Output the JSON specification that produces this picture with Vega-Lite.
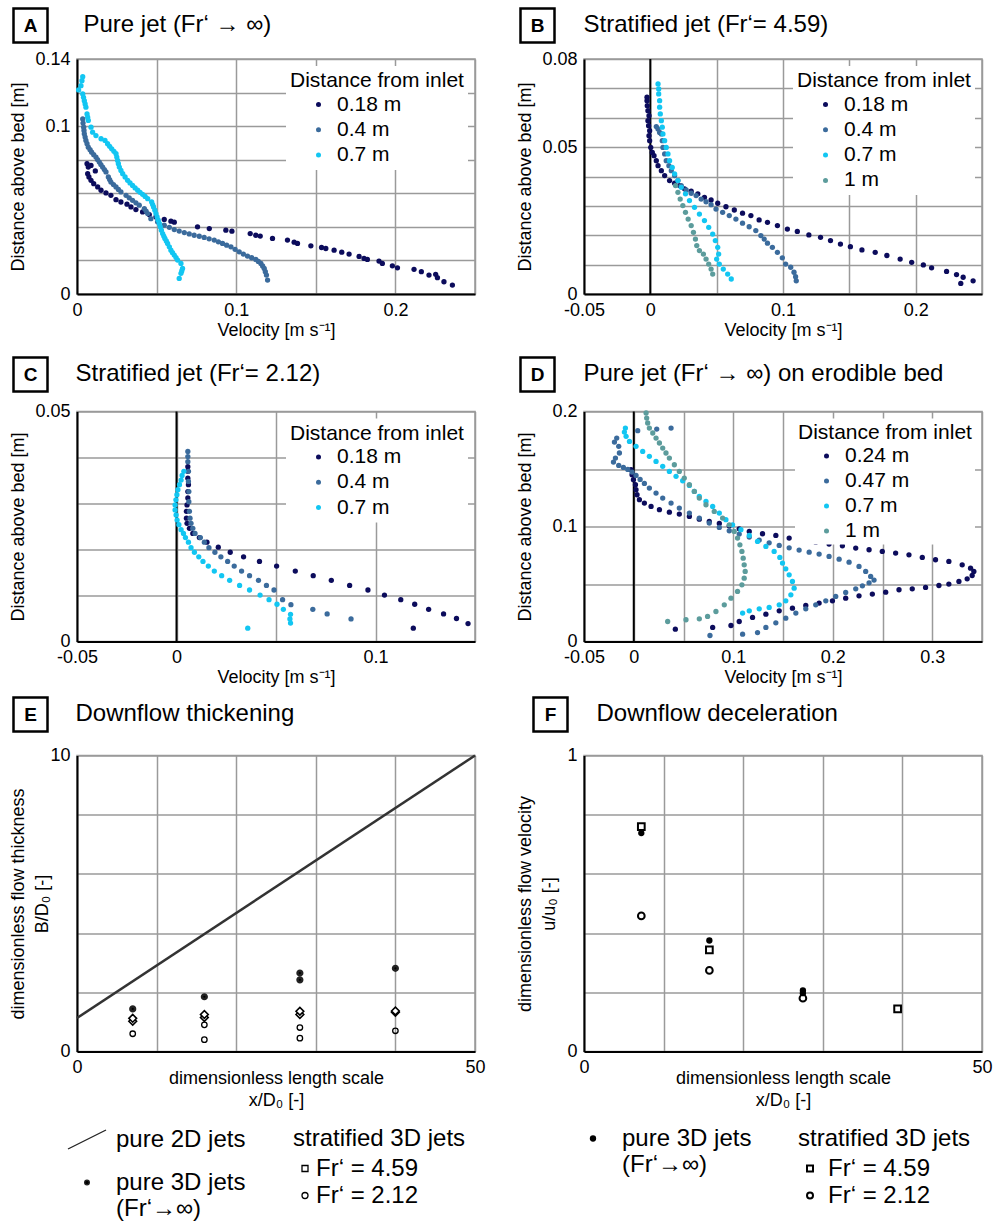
{
"$schema": "https://vega.github.io/schema/vega-lite/v6.json",
"padding": {"left": 8, "top": 7, "right": 0, "bottom": 0},
"datasets": {
"A": [
{"s":"0.18 m","v":0.0063,"z":0.0776},{"s":"0.18 m","v":0.0071,"z":0.0756},{"s":"0.18 m","v":0.0088,"z":0.0766},{"s":"0.18 m","v":0.0115,"z":0.0733},{"s":"0.18 m","v":0.0067,"z":0.0717},{"s":"0.18 m","v":0.0075,"z":0.0697},{"s":"0.18 m","v":0.0088,"z":0.0677},{"s":"0.18 m","v":0.0105,"z":0.0657},{"s":"0.18 m","v":0.013,"z":0.0638},{"s":"0.18 m","v":0.0151,"z":0.0618},{"s":"0.18 m","v":0.0182,"z":0.0602},{"s":"0.18 m","v":0.0213,"z":0.0588},{"s":"0.18 m","v":0.0245,"z":0.0562},{"s":"0.18 m","v":0.0276,"z":0.0548},{"s":"0.18 m","v":0.0314,"z":0.0535},{"s":"0.18 m","v":0.0339,"z":0.0519},{"s":"0.18 m","v":0.037,"z":0.0503},{"s":"0.18 m","v":0.0412,"z":0.0489},{"s":"0.18 m","v":0.0454,"z":0.0473},{"s":"0.18 m","v":0.0496,"z":0.0459},{"s":"0.18 m","v":0.0548,"z":0.0444},{"s":"0.18 m","v":0.059,"z":0.0434},{"s":"0.18 m","v":0.0611,"z":0.0428},{"s":"0.18 m","v":0.0757,"z":0.04},{"s":"0.18 m","v":0.0831,"z":0.039},{"s":"0.18 m","v":0.0935,"z":0.038},{"s":"0.18 m","v":0.0973,"z":0.0374},{"s":"0.18 m","v":0.1088,"z":0.036},{"s":"0.18 m","v":0.1123,"z":0.035},{"s":"0.18 m","v":0.1151,"z":0.0345},{"s":"0.18 m","v":0.1228,"z":0.0331},{"s":"0.18 m","v":0.1322,"z":0.0321},{"s":"0.18 m","v":0.1364,"z":0.0309},{"s":"0.18 m","v":0.1385,"z":0.0301},{"s":"0.18 m","v":0.1469,"z":0.0287},{"s":"0.18 m","v":0.1536,"z":0.0277},{"s":"0.18 m","v":0.1563,"z":0.0271},{"s":"0.18 m","v":0.1615,"z":0.0261},{"s":"0.18 m","v":0.1663,"z":0.0249},{"s":"0.18 m","v":0.1709,"z":0.0238},{"s":"0.18 m","v":0.1772,"z":0.0224},{"s":"0.18 m","v":0.1803,"z":0.0212},{"s":"0.18 m","v":0.1824,"z":0.0206},{"s":"0.18 m","v":0.1897,"z":0.0196},{"s":"0.18 m","v":0.1918,"z":0.0182},{"s":"0.18 m","v":0.1981,"z":0.0168},{"s":"0.18 m","v":0.2013,"z":0.0156},{"s":"0.18 m","v":0.2117,"z":0.0147},{"s":"0.18 m","v":0.2163,"z":0.0133},{"s":"0.18 m","v":0.2211,"z":0.0113},{"s":"0.18 m","v":0.2253,"z":0.0117},{"s":"0.18 m","v":0.2264,"z":0.0097},{"s":"0.18 m","v":0.2305,"z":0.0073},{"s":"0.18 m","v":0.2358,"z":0.0053},
{"s":"0.4 m","v":0.0036,"z":0.1043},{"s":"0.4 m","v":0.0038,"z":0.1018},{"s":"0.4 m","v":0.0042,"z":0.0994},{"s":"0.4 m","v":0.0044,"z":0.0974},{"s":"0.4 m","v":0.0046,"z":0.0954},{"s":"0.4 m","v":0.0051,"z":0.0935},{"s":"0.4 m","v":0.0056,"z":0.0915},{"s":"0.4 m","v":0.0063,"z":0.0895},{"s":"0.4 m","v":0.0071,"z":0.0875},{"s":"0.4 m","v":0.0082,"z":0.086},{"s":"0.4 m","v":0.0092,"z":0.0845},{"s":"0.4 m","v":0.0105,"z":0.083},{"s":"0.4 m","v":0.0119,"z":0.0816},{"s":"0.4 m","v":0.0129,"z":0.0801},{"s":"0.4 m","v":0.014,"z":0.0786},{"s":"0.4 m","v":0.015,"z":0.0771},{"s":"0.4 m","v":0.0161,"z":0.0756},{"s":"0.4 m","v":0.0172,"z":0.0741},{"s":"0.4 m","v":0.0182,"z":0.0727},{"s":"0.4 m","v":0.0197,"z":0.0697},{"s":"0.4 m","v":0.0205,"z":0.0682},{"s":"0.4 m","v":0.0213,"z":0.0667},{"s":"0.4 m","v":0.0229,"z":0.0652},{"s":"0.4 m","v":0.0245,"z":0.0638},{"s":"0.4 m","v":0.026,"z":0.0623},{"s":"0.4 m","v":0.0276,"z":0.0608},{"s":"0.4 m","v":0.0308,"z":0.0588},{"s":"0.4 m","v":0.0328,"z":0.0573},{"s":"0.4 m","v":0.0349,"z":0.0558},{"s":"0.4 m","v":0.037,"z":0.0543},{"s":"0.4 m","v":0.0391,"z":0.0529},{"s":"0.4 m","v":0.0423,"z":0.0509},{"s":"0.4 m","v":0.0434,"z":0.0494},{"s":"0.4 m","v":0.0444,"z":0.0479},{"s":"0.4 m","v":0.0464,"z":0.0449},{"s":"0.4 m","v":0.0506,"z":0.043},{"s":"0.4 m","v":0.0548,"z":0.041},{"s":"0.4 m","v":0.058,"z":0.0397},{"s":"0.4 m","v":0.0611,"z":0.0384},{"s":"0.4 m","v":0.0642,"z":0.0375},{"s":"0.4 m","v":0.0674,"z":0.0366},{"s":"0.4 m","v":0.0705,"z":0.0358},{"s":"0.4 m","v":0.0736,"z":0.035},{"s":"0.4 m","v":0.0768,"z":0.0344},{"s":"0.4 m","v":0.0799,"z":0.0337},{"s":"0.4 m","v":0.083,"z":0.0329},{"s":"0.4 m","v":0.0862,"z":0.0321},{"s":"0.4 m","v":0.0888,"z":0.0311},{"s":"0.4 m","v":0.0914,"z":0.0301},{"s":"0.4 m","v":0.094,"z":0.0291},{"s":"0.4 m","v":0.0967,"z":0.0281},{"s":"0.4 m","v":0.0993,"z":0.0266},{"s":"0.4 m","v":0.1019,"z":0.0251},{"s":"0.4 m","v":0.1045,"z":0.0238},{"s":"0.4 m","v":0.1071,"z":0.0226},{"s":"0.4 m","v":0.1097,"z":0.0216},{"s":"0.4 m","v":0.1123,"z":0.0206},{"s":"0.4 m","v":0.1139,"z":0.0194},{"s":"0.4 m","v":0.1155,"z":0.0182},{"s":"0.4 m","v":0.1166,"z":0.0167},{"s":"0.4 m","v":0.1176,"z":0.0152},{"s":"0.4 m","v":0.1183,"z":0.0133},{"s":"0.4 m","v":0.119,"z":0.0113},{"s":"0.4 m","v":0.1197,"z":0.0083},
{"s":"0.7 m","v":0.0036,"z":0.1295},{"s":"0.7 m","v":0.0031,"z":0.1271},{"s":"0.7 m","v":0.0025,"z":0.1241},{"s":"0.7 m","v":0.001,"z":0.1216},{"s":"0.7 m","v":0.0036,"z":0.1192},{"s":"0.7 m","v":0.0041,"z":0.1172},{"s":"0.7 m","v":0.0046,"z":0.1152},{"s":"0.7 m","v":0.0051,"z":0.1132},{"s":"0.7 m","v":0.0056,"z":0.1113},{"s":"0.7 m","v":0.0063,"z":0.1073},{"s":"0.7 m","v":0.0067,"z":0.1053},{"s":"0.7 m","v":0.0071,"z":0.1034},{"s":"0.7 m","v":0.0088,"z":0.0994},{"s":"0.7 m","v":0.0098,"z":0.0964},{"s":"0.7 m","v":0.0119,"z":0.0944},{"s":"0.7 m","v":0.0151,"z":0.0925},{"s":"0.7 m","v":0.0176,"z":0.0915},{"s":"0.7 m","v":0.0192,"z":0.0895},{"s":"0.7 m","v":0.0205,"z":0.088},{"s":"0.7 m","v":0.0218,"z":0.0865},{"s":"0.7 m","v":0.0232,"z":0.085},{"s":"0.7 m","v":0.0245,"z":0.0836},{"s":"0.7 m","v":0.025,"z":0.0816},{"s":"0.7 m","v":0.0255,"z":0.0796},{"s":"0.7 m","v":0.026,"z":0.0776},{"s":"0.7 m","v":0.0266,"z":0.0756},{"s":"0.7 m","v":0.0276,"z":0.0736},{"s":"0.7 m","v":0.0287,"z":0.0717},{"s":"0.7 m","v":0.0302,"z":0.0697},{"s":"0.7 m","v":0.0318,"z":0.0677},{"s":"0.7 m","v":0.0333,"z":0.0662},{"s":"0.7 m","v":0.0349,"z":0.0647},{"s":"0.7 m","v":0.0365,"z":0.0632},{"s":"0.7 m","v":0.0381,"z":0.0618},{"s":"0.7 m","v":0.0396,"z":0.0606},{"s":"0.7 m","v":0.0412,"z":0.0594},{"s":"0.7 m","v":0.0428,"z":0.0581},{"s":"0.7 m","v":0.0444,"z":0.0568},{"s":"0.7 m","v":0.0469,"z":0.0548},{"s":"0.7 m","v":0.0475,"z":0.0533},{"s":"0.7 m","v":0.0481,"z":0.0519},{"s":"0.7 m","v":0.0489,"z":0.0499},{"s":"0.7 m","v":0.0496,"z":0.0479},{"s":"0.7 m","v":0.0503,"z":0.0459},{"s":"0.7 m","v":0.051,"z":0.044},{"s":"0.7 m","v":0.0517,"z":0.042},{"s":"0.7 m","v":0.0523,"z":0.04},{"s":"0.7 m","v":0.053,"z":0.038},{"s":"0.7 m","v":0.0538,"z":0.036},{"s":"0.7 m","v":0.0545,"z":0.0345},{"s":"0.7 m","v":0.0552,"z":0.0331},{"s":"0.7 m","v":0.0561,"z":0.0316},{"s":"0.7 m","v":0.0569,"z":0.0301},{"s":"0.7 m","v":0.058,"z":0.0281},{"s":"0.7 m","v":0.059,"z":0.0261},{"s":"0.7 m","v":0.06,"z":0.0246},{"s":"0.7 m","v":0.0611,"z":0.0232},{"s":"0.7 m","v":0.0622,"z":0.0217},{"s":"0.7 m","v":0.0632,"z":0.0202},{"s":"0.7 m","v":0.0653,"z":0.0182},{"s":"0.7 m","v":0.0663,"z":0.0152},{"s":"0.7 m","v":0.0658,"z":0.0137},{"s":"0.7 m","v":0.0653,"z":0.0123},{"s":"0.7 m","v":0.0642,"z":0.0093}
],
"B": [
{"s":"0.18 m","v":-0.0025,"z":0.067},{"s":"0.18 m","v":-0.0025,"z":0.0658},{"s":"0.18 m","v":-0.0023,"z":0.0641},{"s":"0.18 m","v":-0.0018,"z":0.0624},{"s":"0.18 m","v":-0.001,"z":0.0607},{"s":"0.18 m","v":-0.0018,"z":0.059},{"s":"0.18 m","v":-0.0013,"z":0.0573},{"s":"0.18 m","v":-0.0005,"z":0.0556},{"s":"0.18 m","v":-0.001,"z":0.0539},{"s":"0.18 m","v":-0.0005,"z":0.0522},{"s":"0.18 m","v":0.0003,"z":0.0499},{"s":"0.18 m","v":0.0015,"z":0.0482},{"s":"0.18 m","v":0.0028,"z":0.0471},{"s":"0.18 m","v":0.0045,"z":0.0454},{"s":"0.18 m","v":0.0058,"z":0.0437},{"s":"0.18 m","v":0.0083,"z":0.042},{"s":"0.18 m","v":0.0108,"z":0.0403},{"s":"0.18 m","v":0.0145,"z":0.0386},{"s":"0.18 m","v":0.0183,"z":0.0377},{"s":"0.18 m","v":0.022,"z":0.0369},{"s":"0.18 m","v":0.0258,"z":0.0358},{"s":"0.18 m","v":0.0308,"z":0.035},{"s":"0.18 m","v":0.0358,"z":0.0341},{"s":"0.18 m","v":0.0408,"z":0.0329},{"s":"0.18 m","v":0.0458,"z":0.032},{"s":"0.18 m","v":0.0508,"z":0.0309},{"s":"0.18 m","v":0.057,"z":0.0297},{"s":"0.18 m","v":0.0633,"z":0.0286},{"s":"0.18 m","v":0.0695,"z":0.0275},{"s":"0.18 m","v":0.0758,"z":0.0267},{"s":"0.18 m","v":0.082,"z":0.0252},{"s":"0.18 m","v":0.0883,"z":0.0244},{"s":"0.18 m","v":0.0958,"z":0.0233},{"s":"0.18 m","v":0.1033,"z":0.0221},{"s":"0.18 m","v":0.1108,"z":0.0213},{"s":"0.18 m","v":0.1195,"z":0.0201},{"s":"0.18 m","v":0.1283,"z":0.0193},{"s":"0.18 m","v":0.1358,"z":0.0182},{"s":"0.18 m","v":0.1433,"z":0.017},{"s":"0.18 m","v":0.1508,"z":0.0161},{"s":"0.18 m","v":0.1595,"z":0.015},{"s":"0.18 m","v":0.1695,"z":0.0142},{"s":"0.18 m","v":0.1783,"z":0.0131},{"s":"0.18 m","v":0.1883,"z":0.0119},{"s":"0.18 m","v":0.197,"z":0.0108},{"s":"0.18 m","v":0.2058,"z":0.0099},{"s":"0.18 m","v":0.212,"z":0.0089},{"s":"0.18 m","v":0.2233,"z":0.0077},{"s":"0.18 m","v":0.2308,"z":0.0066},{"s":"0.18 m","v":0.2358,"z":0.0057},{"s":"0.18 m","v":0.2433,"z":0.0045},{"s":"0.18 m","v":0.234,"z":0.0036},
{"s":"0.4 m","v":0.0045,"z":0.057},{"s":"0.4 m","v":0.0058,"z":0.0562},{"s":"0.4 m","v":0.007,"z":0.055},{"s":"0.4 m","v":0.0083,"z":0.0545},{"s":"0.4 m","v":0.009,"z":0.0522},{"s":"0.4 m","v":0.0095,"z":0.0499},{"s":"0.4 m","v":0.0108,"z":0.0477},{"s":"0.4 m","v":0.012,"z":0.0454},{"s":"0.4 m","v":0.014,"z":0.0437},{"s":"0.4 m","v":0.0158,"z":0.042},{"s":"0.4 m","v":0.0183,"z":0.0403},{"s":"0.4 m","v":0.0208,"z":0.0386},{"s":"0.4 m","v":0.0233,"z":0.0369},{"s":"0.4 m","v":0.027,"z":0.0354},{"s":"0.4 m","v":0.0308,"z":0.0343},{"s":"0.4 m","v":0.0345,"z":0.0335},{"s":"0.4 m","v":0.0383,"z":0.0323},{"s":"0.4 m","v":0.042,"z":0.0314},{"s":"0.4 m","v":0.0458,"z":0.0304},{"s":"0.4 m","v":0.0495,"z":0.0289},{"s":"0.4 m","v":0.0545,"z":0.0278},{"s":"0.4 m","v":0.0595,"z":0.0267},{"s":"0.4 m","v":0.0645,"z":0.0255},{"s":"0.4 m","v":0.0695,"z":0.0241},{"s":"0.4 m","v":0.0745,"z":0.0229},{"s":"0.4 m","v":0.0795,"z":0.0216},{"s":"0.4 m","v":0.0833,"z":0.0199},{"s":"0.4 m","v":0.0858,"z":0.0187},{"s":"0.4 m","v":0.0883,"z":0.0173},{"s":"0.4 m","v":0.092,"z":0.0159},{"s":"0.4 m","v":0.0958,"z":0.0142},{"s":"0.4 m","v":0.0995,"z":0.0123},{"s":"0.4 m","v":0.102,"z":0.0102},{"s":"0.4 m","v":0.1058,"z":0.0091},{"s":"0.4 m","v":0.1083,"z":0.0074},{"s":"0.4 m","v":0.1095,"z":0.0059},{"s":"0.4 m","v":0.11,"z":0.0045},
{"s":"0.7 m","v":0.0058,"z":0.0715},{"s":"0.7 m","v":0.0063,"z":0.0698},{"s":"0.7 m","v":0.0063,"z":0.0681},{"s":"0.7 m","v":0.007,"z":0.0658},{"s":"0.7 m","v":0.007,"z":0.0636},{"s":"0.7 m","v":0.0075,"z":0.0613},{"s":"0.7 m","v":0.0083,"z":0.059},{"s":"0.7 m","v":0.009,"z":0.0568},{"s":"0.7 m","v":0.0095,"z":0.0545},{"s":"0.7 m","v":0.0108,"z":0.0522},{"s":"0.7 m","v":0.012,"z":0.0499},{"s":"0.7 m","v":0.0133,"z":0.0477},{"s":"0.7 m","v":0.0145,"z":0.0454},{"s":"0.7 m","v":0.0165,"z":0.0431},{"s":"0.7 m","v":0.0183,"z":0.0409},{"s":"0.7 m","v":0.0208,"z":0.0386},{"s":"0.7 m","v":0.0233,"z":0.0363},{"s":"0.7 m","v":0.0265,"z":0.0341},{"s":"0.7 m","v":0.0295,"z":0.0318},{"s":"0.7 m","v":0.0333,"z":0.0295},{"s":"0.7 m","v":0.037,"z":0.0272},{"s":"0.7 m","v":0.0408,"z":0.025},{"s":"0.7 m","v":0.044,"z":0.0227},{"s":"0.7 m","v":0.047,"z":0.0204},{"s":"0.7 m","v":0.049,"z":0.0182},{"s":"0.7 m","v":0.0508,"z":0.0159},{"s":"0.7 m","v":0.0515,"z":0.0136},{"s":"0.7 m","v":0.05,"z":0.0119},{"s":"0.7 m","v":0.052,"z":0.0102},{"s":"0.7 m","v":0.055,"z":0.0085},{"s":"0.7 m","v":0.0583,"z":0.0068},{"s":"0.7 m","v":0.061,"z":0.0051},
{"s":"1 m","v":0.019,"z":0.0369},{"s":"1 m","v":0.0208,"z":0.0346},{"s":"1 m","v":0.0225,"z":0.0323},{"s":"1 m","v":0.0245,"z":0.0301},{"s":"1 m","v":0.0265,"z":0.0278},{"s":"1 m","v":0.0285,"z":0.0255},{"s":"1 m","v":0.0308,"z":0.0233},{"s":"1 m","v":0.0325,"z":0.021},{"s":"1 m","v":0.034,"z":0.0187},{"s":"1 m","v":0.035,"z":0.0165},{"s":"1 m","v":0.037,"z":0.0148},{"s":"1 m","v":0.04,"z":0.0136},{"s":"1 m","v":0.042,"z":0.0119},{"s":"1 m","v":0.044,"z":0.0102},{"s":"1 m","v":0.0458,"z":0.0085},{"s":"1 m","v":0.047,"z":0.0068}
],
"C": [
{"s":"0.18 m","v":0.0057,"z":0.038},{"s":"0.18 m","v":0.0057,"z":0.037},{"s":"0.18 m","v":0.0057,"z":0.0355},{"s":"0.18 m","v":0.006,"z":0.0341},{"s":"0.18 m","v":0.0057,"z":0.0326},{"s":"0.18 m","v":0.0057,"z":0.0312},{"s":"0.18 m","v":0.0053,"z":0.0297},{"s":"0.18 m","v":0.005,"z":0.0283},{"s":"0.18 m","v":0.005,"z":0.0268},{"s":"0.18 m","v":0.0053,"z":0.0257},{"s":"0.18 m","v":0.0065,"z":0.0246},{"s":"0.18 m","v":0.0082,"z":0.0235},{"s":"0.18 m","v":0.0115,"z":0.0226},{"s":"0.18 m","v":0.0153,"z":0.0216},{"s":"0.18 m","v":0.021,"z":0.0205},{"s":"0.18 m","v":0.027,"z":0.0194},{"s":"0.18 m","v":0.0337,"z":0.0184},{"s":"0.18 m","v":0.0417,"z":0.0174},{"s":"0.18 m","v":0.0503,"z":0.0164},{"s":"0.18 m","v":0.0597,"z":0.0153},{"s":"0.18 m","v":0.0687,"z":0.0143},{"s":"0.18 m","v":0.0778,"z":0.0133},{"s":"0.18 m","v":0.087,"z":0.0122},{"s":"0.18 m","v":0.0962,"z":0.0112},{"s":"0.18 m","v":0.1045,"z":0.0101},{"s":"0.18 m","v":0.1127,"z":0.0091},{"s":"0.18 m","v":0.1197,"z":0.0081},{"s":"0.18 m","v":0.1267,"z":0.007},{"s":"0.18 m","v":0.1342,"z":0.006},{"s":"0.18 m","v":0.1407,"z":0.005},{"s":"0.18 m","v":0.1465,"z":0.0039},{"s":"0.18 m","v":0.119,"z":0.0029},
{"s":"0.4 m","v":0.0057,"z":0.0413},{"s":"0.4 m","v":0.0057,"z":0.0402},{"s":"0.4 m","v":0.0057,"z":0.0391},{"s":"0.4 m","v":0.006,"z":0.037},{"s":"0.4 m","v":0.006,"z":0.0348},{"s":"0.4 m","v":0.0062,"z":0.0326},{"s":"0.4 m","v":0.0062,"z":0.0304},{"s":"0.4 m","v":0.0065,"z":0.0283},{"s":"0.4 m","v":0.0068,"z":0.0268},{"s":"0.4 m","v":0.0073,"z":0.0257},{"s":"0.4 m","v":0.0082,"z":0.0246},{"s":"0.4 m","v":0.0093,"z":0.0235},{"s":"0.4 m","v":0.012,"z":0.0226},{"s":"0.4 m","v":0.014,"z":0.0216},{"s":"0.4 m","v":0.0163,"z":0.0204},{"s":"0.4 m","v":0.0193,"z":0.0194},{"s":"0.4 m","v":0.0223,"z":0.0184},{"s":"0.4 m","v":0.0257,"z":0.0174},{"s":"0.4 m","v":0.029,"z":0.0164},{"s":"0.4 m","v":0.0327,"z":0.0153},{"s":"0.4 m","v":0.0367,"z":0.0143},{"s":"0.4 m","v":0.0412,"z":0.0133},{"s":"0.4 m","v":0.0452,"z":0.0122},{"s":"0.4 m","v":0.049,"z":0.0112},{"s":"0.4 m","v":0.0533,"z":0.0091},{"s":"0.4 m","v":0.0575,"z":0.008},{"s":"0.4 m","v":0.0685,"z":0.007},{"s":"0.4 m","v":0.0757,"z":0.006},{"s":"0.4 m","v":0.0877,"z":0.0049},
{"s":"0.7 m","v":0.0037,"z":0.037},{"s":"0.7 m","v":0.0028,"z":0.0361},{"s":"0.7 m","v":0.0023,"z":0.0351},{"s":"0.7 m","v":0.0015,"z":0.0341},{"s":"0.7 m","v":0.0007,"z":0.033},{"s":"0.7 m","v":0.0002,"z":0.0319},{"s":"0.7 m","v":-0.0003,"z":0.0308},{"s":"0.7 m","v":-0.0007,"z":0.0297},{"s":"0.7 m","v":-0.0007,"z":0.0286},{"s":"0.7 m","v":-0.0002,"z":0.0275},{"s":"0.7 m","v":0.0003,"z":0.0264},{"s":"0.7 m","v":0.0012,"z":0.0254},{"s":"0.7 m","v":0.0023,"z":0.0243},{"s":"0.7 m","v":0.0035,"z":0.0235},{"s":"0.7 m","v":0.0045,"z":0.0226},{"s":"0.7 m","v":0.006,"z":0.0216},{"s":"0.7 m","v":0.0073,"z":0.0204},{"s":"0.7 m","v":0.009,"z":0.0194},{"s":"0.7 m","v":0.0112,"z":0.0184},{"s":"0.7 m","v":0.0133,"z":0.0174},{"s":"0.7 m","v":0.016,"z":0.0164},{"s":"0.7 m","v":0.019,"z":0.0153},{"s":"0.7 m","v":0.0227,"z":0.0143},{"s":"0.7 m","v":0.0267,"z":0.0133},{"s":"0.7 m","v":0.0317,"z":0.0122},{"s":"0.7 m","v":0.0367,"z":0.0112},{"s":"0.7 m","v":0.042,"z":0.0101},{"s":"0.7 m","v":0.0465,"z":0.0091},{"s":"0.7 m","v":0.0505,"z":0.0081},{"s":"0.7 m","v":0.0537,"z":0.007},{"s":"0.7 m","v":0.0573,"z":0.0059},{"s":"0.7 m","v":0.057,"z":0.0049},{"s":"0.7 m","v":0.0573,"z":0.004},{"s":"0.7 m","v":0.0358,"z":0.0029}
],
"D": [
{"s":"0.24 m","v":-0.0027,"z":0.1494},{"s":"0.24 m","v":-0.0017,"z":0.145},{"s":"0.24 m","v":-0.0003,"z":0.1407},{"s":"0.24 m","v":0.0017,"z":0.1363},{"s":"0.24 m","v":0.0023,"z":0.132},{"s":"0.24 m","v":0.0033,"z":0.1276},{"s":"0.24 m","v":0.0057,"z":0.1233},{"s":"0.24 m","v":0.0107,"z":0.1204},{"s":"0.24 m","v":0.0174,"z":0.1175},{"s":"0.24 m","v":0.0258,"z":0.1146},{"s":"0.24 m","v":0.0358,"z":0.1125},{"s":"0.24 m","v":0.0458,"z":0.1108},{"s":"0.24 m","v":0.0559,"z":0.1088},{"s":"0.24 m","v":0.0659,"z":0.1064},{"s":"0.24 m","v":0.0759,"z":0.1044},{"s":"0.24 m","v":0.086,"z":0.1027},{"s":"0.24 m","v":0.096,"z":0.1006},{"s":"0.24 m","v":0.106,"z":0.098},{"s":"0.24 m","v":0.1161,"z":0.0957},{"s":"0.24 m","v":0.1294,"z":0.0937},{"s":"0.24 m","v":0.1428,"z":0.0922},{"s":"0.24 m","v":0.1562,"z":0.0899},{"s":"0.24 m","v":0.1696,"z":0.0885},{"s":"0.24 m","v":0.1829,"z":0.0864},{"s":"0.24 m","v":0.1963,"z":0.0847},{"s":"0.24 m","v":0.2097,"z":0.0832},{"s":"0.24 m","v":0.2231,"z":0.0812},{"s":"0.24 m","v":0.2365,"z":0.0798},{"s":"0.24 m","v":0.2498,"z":0.0783},{"s":"0.24 m","v":0.2632,"z":0.0769},{"s":"0.24 m","v":0.2766,"z":0.0754},{"s":"0.24 m","v":0.29,"z":0.0731},{"s":"0.24 m","v":0.3033,"z":0.0711},{"s":"0.24 m","v":0.3167,"z":0.0696},{"s":"0.24 m","v":0.3301,"z":0.0667},{"s":"0.24 m","v":0.3385,"z":0.0638},{"s":"0.24 m","v":0.3418,"z":0.0609},{"s":"0.24 m","v":0.3401,"z":0.0574},{"s":"0.24 m","v":0.3351,"z":0.0545},{"s":"0.24 m","v":0.3268,"z":0.0522},{"s":"0.24 m","v":0.3167,"z":0.0499},{"s":"0.24 m","v":0.3067,"z":0.0487},{"s":"0.24 m","v":0.2933,"z":0.047},{"s":"0.24 m","v":0.2799,"z":0.0458},{"s":"0.24 m","v":0.2666,"z":0.045},{"s":"0.24 m","v":0.2532,"z":0.0429},{"s":"0.24 m","v":0.2398,"z":0.0412},{"s":"0.24 m","v":0.2264,"z":0.0397},{"s":"0.24 m","v":0.213,"z":0.0377},{"s":"0.24 m","v":0.1997,"z":0.0354},{"s":"0.24 m","v":0.1863,"z":0.0334},{"s":"0.24 m","v":0.1729,"z":0.0313},{"s":"0.24 m","v":0.1595,"z":0.029},{"s":"0.24 m","v":0.1462,"z":0.0267},{"s":"0.24 m","v":0.1328,"z":0.0238},{"s":"0.24 m","v":0.1194,"z":0.0209},{"s":"0.24 m","v":0.106,"z":0.0174},{"s":"0.24 m","v":0.0977,"z":0.0139},{"s":"0.24 m","v":0.0793,"z":0.0122},{"s":"0.24 m","v":0.0418,"z":0.0107},
{"s":"0.47 m","v":-0.0171,"z":0.1769},{"s":"0.47 m","v":-0.0194,"z":0.1734},{"s":"0.47 m","v":-0.0151,"z":0.1697},{"s":"0.47 m","v":-0.0144,"z":0.1639},{"s":"0.47 m","v":-0.0184,"z":0.1595},{"s":"0.47 m","v":-0.0204,"z":0.156},{"s":"0.47 m","v":-0.0151,"z":0.1531},{"s":"0.47 m","v":-0.0104,"z":0.1514},{"s":"0.47 m","v":-0.006,"z":0.1496},{"s":"0.47 m","v":-0.0017,"z":0.1473},{"s":"0.47 m","v":0.0023,"z":0.1444},{"s":"0.47 m","v":0.0064,"z":0.1409},{"s":"0.47 m","v":0.0107,"z":0.1375},{"s":"0.47 m","v":0.0157,"z":0.1334},{"s":"0.47 m","v":0.0224,"z":0.1291},{"s":"0.47 m","v":0.0291,"z":0.1247},{"s":"0.47 m","v":0.0375,"z":0.1204},{"s":"0.47 m","v":0.0458,"z":0.116},{"s":"0.47 m","v":0.0559,"z":0.1117},{"s":"0.47 m","v":0.0659,"z":0.1073},{"s":"0.47 m","v":0.0759,"z":0.103},{"s":"0.47 m","v":0.086,"z":0.0992},{"s":"0.47 m","v":0.096,"z":0.0963},{"s":"0.47 m","v":0.106,"z":0.0934},{"s":"0.47 m","v":0.1161,"z":0.0908},{"s":"0.47 m","v":0.1261,"z":0.0882},{"s":"0.47 m","v":0.1361,"z":0.0858},{"s":"0.47 m","v":0.1462,"z":0.0835},{"s":"0.47 m","v":0.1562,"z":0.0815},{"s":"0.47 m","v":0.1662,"z":0.0795},{"s":"0.47 m","v":0.1763,"z":0.0777},{"s":"0.47 m","v":0.1863,"z":0.076},{"s":"0.47 m","v":0.1963,"z":0.074},{"s":"0.47 m","v":0.2064,"z":0.0716},{"s":"0.47 m","v":0.2164,"z":0.069},{"s":"0.47 m","v":0.2264,"z":0.0653},{"s":"0.47 m","v":0.2331,"z":0.0609},{"s":"0.47 m","v":0.2381,"z":0.0566},{"s":"0.47 m","v":0.2415,"z":0.0534},{"s":"0.47 m","v":0.2365,"z":0.051},{"s":"0.47 m","v":0.2298,"z":0.0484},{"s":"0.47 m","v":0.2231,"z":0.0458},{"s":"0.47 m","v":0.213,"z":0.0426},{"s":"0.47 m","v":0.203,"z":0.0392},{"s":"0.47 m","v":0.193,"z":0.0354},{"s":"0.47 m","v":0.1829,"z":0.0319},{"s":"0.47 m","v":0.1729,"z":0.0284},{"s":"0.47 m","v":0.1629,"z":0.0247},{"s":"0.47 m","v":0.1528,"z":0.0203},{"s":"0.47 m","v":0.1428,"z":0.0162},{"s":"0.47 m","v":0.1328,"z":0.0122},{"s":"0.47 m","v":0.1244,"z":0.0078},{"s":"0.47 m","v":0.1094,"z":0.0064},{"s":"0.47 m","v":0.0766,"z":0.0052},{"s":"0.47 m","v":0.004,"z":0.1833},{"s":"0.47 m","v":0.0231,"z":0.1847},{"s":"0.47 m","v":0.0375,"z":0.1856},
{"s":"0.7 m","v":-0.0084,"z":0.1856},{"s":"0.7 m","v":-0.0094,"z":0.1821},{"s":"0.7 m","v":-0.0077,"z":0.1784},{"s":"0.7 m","v":-0.0043,"z":0.174},{"s":"0.7 m","v":0.0023,"z":0.1697},{"s":"0.7 m","v":0.009,"z":0.1653},{"s":"0.7 m","v":0.0157,"z":0.161},{"s":"0.7 m","v":0.0224,"z":0.1566},{"s":"0.7 m","v":0.0291,"z":0.1523},{"s":"0.7 m","v":0.0358,"z":0.1479},{"s":"0.7 m","v":0.0425,"z":0.1436},{"s":"0.7 m","v":0.0492,"z":0.1398},{"s":"0.7 m","v":0.0559,"z":0.1357},{"s":"0.7 m","v":0.0609,"z":0.1305},{"s":"0.7 m","v":0.0659,"z":0.1262},{"s":"0.7 m","v":0.0726,"z":0.1218},{"s":"0.7 m","v":0.0793,"z":0.1175},{"s":"0.7 m","v":0.086,"z":0.1117},{"s":"0.7 m","v":0.0926,"z":0.1059},{"s":"0.7 m","v":0.0993,"z":0.1015},{"s":"0.7 m","v":0.1077,"z":0.0972},{"s":"0.7 m","v":0.1161,"z":0.0922},{"s":"0.7 m","v":0.1244,"z":0.087},{"s":"0.7 m","v":0.1328,"z":0.0827},{"s":"0.7 m","v":0.1411,"z":0.0783},{"s":"0.7 m","v":0.1468,"z":0.0731},{"s":"0.7 m","v":0.1495,"z":0.0682},{"s":"0.7 m","v":0.1528,"z":0.0632},{"s":"0.7 m","v":0.1562,"z":0.058},{"s":"0.7 m","v":0.1595,"z":0.0522},{"s":"0.7 m","v":0.1612,"z":0.0464},{"s":"0.7 m","v":0.1579,"z":0.0406},{"s":"0.7 m","v":0.1528,"z":0.0354},{"s":"0.7 m","v":0.1462,"z":0.0319},{"s":"0.7 m","v":0.1361,"z":0.0296},{"s":"0.7 m","v":0.1261,"z":0.0284},{"s":"0.7 m","v":0.1161,"z":0.0267},{"s":"0.7 m","v":0.1094,"z":0.0247},
{"s":"1 m","v":0.0124,"z":0.1987},{"s":"1 m","v":0.013,"z":0.1943},{"s":"1 m","v":0.014,"z":0.19},{"s":"1 m","v":0.0157,"z":0.1856},{"s":"1 m","v":0.0191,"z":0.1813},{"s":"1 m","v":0.0224,"z":0.1769},{"s":"1 m","v":0.0258,"z":0.1726},{"s":"1 m","v":0.0291,"z":0.1682},{"s":"1 m","v":0.0324,"z":0.1639},{"s":"1 m","v":0.0358,"z":0.1595},{"s":"1 m","v":0.0408,"z":0.1537},{"s":"1 m","v":0.0458,"z":0.1479},{"s":"1 m","v":0.0508,"z":0.1421},{"s":"1 m","v":0.0559,"z":0.1363},{"s":"1 m","v":0.0609,"z":0.1305},{"s":"1 m","v":0.0659,"z":0.1247},{"s":"1 m","v":0.0726,"z":0.1189},{"s":"1 m","v":0.0809,"z":0.1131},{"s":"1 m","v":0.0893,"z":0.1073},{"s":"1 m","v":0.096,"z":0.1015},{"s":"1 m","v":0.101,"z":0.0957},{"s":"1 m","v":0.1043,"z":0.0899},{"s":"1 m","v":0.1067,"z":0.0841},{"s":"1 m","v":0.1087,"z":0.0783},{"s":"1 m","v":0.11,"z":0.0725},{"s":"1 m","v":0.111,"z":0.0667},{"s":"1 m","v":0.112,"z":0.0609},{"s":"1 m","v":0.111,"z":0.0551},{"s":"1 m","v":0.1087,"z":0.0493},{"s":"1 m","v":0.1043,"z":0.0435},{"s":"1 m","v":0.0977,"z":0.0377},{"s":"1 m","v":0.091,"z":0.0319},{"s":"1 m","v":0.0826,"z":0.0261},{"s":"1 m","v":0.0742,"z":0.0218},{"s":"1 m","v":0.0659,"z":0.0197},{"s":"1 m","v":0.0525,"z":0.0189},{"s":"1 m","v":0.0341,"z":0.0174}
],
"Eline": [{"x":0,"y":1.13},{"x":50,"y":10}],
"E3d": [{"g":"pure 3D jets","x":7,"y":1.44},{"g":"pure 3D jets","x":16,"y":1.85},{"g":"pure 3D jets","x":28,"y":2.65},{"g":"pure 3D jets","x":28,"y":2.42},{"g":"pure 3D jets","x":40,"y":2.81}],
"E459": [{"x":7,"y":1.02},{"x":7,"y":1.12},{"x":16,"y":1.15},{"x":16,"y":1.25},{"x":28,"y":1.25},{"x":28,"y":1.36},{"x":40,"y":1.33},{"x":40,"y":1.37}],
"E212": [{"s":"Fr‘ = 2.12","x":7,"y":0.6},{"s":"Fr‘ = 2.12","x":16,"y":0.9},{"s":"Fr‘ = 2.12","x":16,"y":0.4},{"s":"Fr‘ = 2.12","x":28,"y":0.81},{"s":"Fr‘ = 2.12","x":28,"y":0.45},{"s":"Fr‘ = 2.12","x":40,"y":0.7}],
"F3d": [{"g":"pure 3D jets","x":7.2,"y":0.738},{"g":"pure 3D jets","x":15.75,"y":0.375},{"g":"pure 3D jets","x":27.5,"y":0.206},{"g":"pure 3D jets","x":27.5,"y":0.197}],
"Fstrat": [{"s":"Fr‘ = 4.59","x":7.2,"y":0.76},{"s":"Fr‘ = 4.59","x":15.75,"y":0.343},{"s":"Fr‘ = 4.59","x":39.4,"y":0.144},{"s":"Fr‘ = 2.12","x":7.2,"y":0.458},{"s":"Fr‘ = 2.12","x":15.75,"y":0.274},{"s":"Fr‘ = 2.12","x":27.5,"y":0.18}]
},
"hconcat": [
{"concat": [
 {"concat": [
 {"concat": [
  {"width": 1, "height": 36, "view": {"stroke": null},
   "data": {"values": [{"t": "A", "h": "Pure jet (Fr‘ → ∞)"}]},
   "layer": [
    {"mark": {"type": "text", "fontSize": 24, "align": "left", "dx": 6, "color": "black"}, "encoding": {"text": {"field": "h", "type": "nominal"}}},
    {"transform": [{"filter": "false"}], "mark": {"type": "point", "filled": false, "color": "black", "strokeWidth": 2.5},
     "encoding": {"shape": {"field": "t", "type": "nominal", "scale": {"domain": ["A"], "range": ["square"]},
      "legend": {"title": null, "orient": "none", "legendX": -65, "legendY": 0, "padding": 0, "symbolSize": 1156, "symbolStrokeWidth": 2.5, "symbolStrokeColor": "black", "symbolOpacity": 1, "symbolOffset": 0, "labelAlign": "center", "labelOffset": -18.5, "labelFontSize": 19, "labelFontWeight": "bold"}}}}
   ]},
  {"width": 398, "height": 235,
   "layer": [
    {"data": {"name": "A"}, "mark": {"type": "circle", "size": 28, "opacity": 1},
     "encoding": {
      "x": {"field": "v", "type": "quantitative", "scale": {"domain": [0, 0.25], "nice": false},
       "axis": {"title": "Velocity [m s⁻¹]", "values": [0, 0.05, 0.1, 0.15, 0.2, 0.25], "format": "~g", "labelExpr": "indexof([0,0.1,0.2], datum.value) >= 0 ? replace(datum.label, '−', '-') : ''"}},
      "y": {"field": "z", "type": "quantitative", "scale": {"domain": [0, 0.14], "nice": false},
       "axis": {"title": "Distance above bed [m]", "values": [0, 0.02, 0.04, 0.06, 0.08, 0.1, 0.12, 0.14], "format": "~g", "labelExpr": "indexof([0,0.1,0.14], datum.value) >= 0 ? datum.label : ''"}},
      "color": {"field": "s", "type": "nominal", "scale": {"domain": ["0.18 m", "0.4 m", "0.7 m"], "range": ["#0c0c5c", "#3b6b9c", "#12c6f2"]},
       "legend": {"title": "Distance from inlet", "orient": "top-right", "offset": 7, "symbolOffset": 18}}
     }}
   ]}
 ], "columns": 1, "spacing": 1,
 "resolve": {"scale": {"color": "independent", "shape": "independent"}, "legend": {"color": "independent", "shape": "independent"}}},
 {"concat": [
  {"width": 1, "height": 36, "view": {"stroke": null},
   "data": {"values": [{"t": "C", "h": "Stratified jet (Fr‘= 2.12)"}]},
   "layer": [
    {"mark": {"type": "text", "fontSize": 24, "align": "left", "dx": -2, "color": "black"}, "encoding": {"text": {"field": "h", "type": "nominal"}}},
    {"transform": [{"filter": "false"}], "mark": {"type": "point", "filled": false, "color": "black", "strokeWidth": 2.5},
     "encoding": {"shape": {"field": "t", "type": "nominal", "scale": {"domain": ["C"], "range": ["square"]},
      "legend": {"title": null, "orient": "none", "legendX": -65, "legendY": 0, "padding": 0, "symbolSize": 1156, "symbolStrokeWidth": 2.5, "symbolStrokeColor": "black", "symbolOpacity": 1, "symbolOffset": 0, "labelAlign": "center", "labelOffset": -18.5, "labelFontSize": 19, "labelFontWeight": "bold"}}}}
   ]},
  {"width": 398, "height": 230,
   "layer": [
    {"data": {"values": [{"v": 0}]}, "mark": {"type": "rule", "color": "black", "strokeWidth": 2},
     "encoding": {"x": {"field": "v", "type": "quantitative", "title": "Velocity [m s⁻¹]"}}},
    {"data": {"name": "C"}, "mark": {"type": "circle", "size": 28, "opacity": 1},
     "encoding": {
      "x": {"field": "v", "type": "quantitative", "scale": {"domain": [-0.05, 0.15], "nice": false},
       "axis": {"title": "Velocity [m s⁻¹]", "values": [-0.05, 0, 0.05, 0.1, 0.15], "format": "~g", "labelExpr": "indexof([-0.05,0,0.1], datum.value) >= 0 ? replace(datum.label, '−', '-') : ''"}},
      "y": {"field": "z", "type": "quantitative", "scale": {"domain": [0, 0.05], "nice": false},
       "axis": {"title": "Distance above bed [m]", "values": [0, 0.01, 0.02, 0.03, 0.04, 0.05], "format": "~g", "labelExpr": "indexof([0,0.05], datum.value) >= 0 ? datum.label : ''"}},
      "color": {"field": "s", "type": "nominal", "scale": {"domain": ["0.18 m", "0.4 m", "0.7 m"], "range": ["#0c0c5c", "#3b6b9c", "#12c6f2"]},
       "legend": {"title": "Distance from inlet", "orient": "top-right", "offset": 7, "symbolOffset": 18}}
     }}
   ]}
 ], "columns": 1, "spacing": 4.5,
 "resolve": {"scale": {"color": "independent", "shape": "independent"}, "legend": {"color": "independent", "shape": "independent"}}}
 ], "columns": 1, "spacing": 16,
 "resolve": {"scale": {"color": "independent", "shape": "independent"}, "legend": {"color": "independent", "shape": "independent"}}},
 {"concat": [
  {"width": 1, "height": 36, "view": {"stroke": null},
   "data": {"values": [{"t": "E", "h": "Downflow thickening"}]},
   "layer": [
    {"mark": {"type": "text", "fontSize": 24, "align": "left", "dx": -2, "color": "black"}, "encoding": {"text": {"field": "h", "type": "nominal"}}},
    {"transform": [{"filter": "false"}], "mark": {"type": "point", "filled": false, "color": "black", "strokeWidth": 2.5},
     "encoding": {"shape": {"field": "t", "type": "nominal", "scale": {"domain": ["E"], "range": ["square"]},
      "legend": {"title": null, "orient": "none", "legendX": -65, "legendY": 0, "padding": 0, "symbolSize": 1156, "symbolStrokeWidth": 2.5, "symbolStrokeColor": "black", "symbolOpacity": 1, "symbolOffset": 0, "labelAlign": "center", "labelOffset": -18.5, "labelFontSize": 19, "labelFontWeight": "bold"}}}}
   ]},
  {"width": 398, "height": 296,
   "layer": [
    {"data": {"name": "Eline"}, "mark": {"type": "line", "color": "#333333", "strokeWidth": 2.5},
     "encoding": {
      "x": {"field": "x", "type": "quantitative", "scale": {"domain": [0, 50], "nice": false},
       "axis": {"title": ["dimensionless length scale", "x/D₀ [-]"], "values": [0, 10, 20, 30, 40, 50], "format": "~r", "labelExpr": "indexof([0,50], datum.value) >= 0 ? datum.label : ''", "minExtent": 10, "maxExtent": 10, "titlePadding": 8, "titleLineHeight": 22}},
      "y": {"field": "y", "type": "quantitative", "scale": {"domain": [0, 10], "nice": false},
       "axis": {"title": ["dimensionless flow thickness", "B/D₀ [-]"], "values": [0, 1, 2, 3, 4, 5, 6, 7, 8, 9, 10], "format": "~r", "labelExpr": "indexof([0,10], datum.value) >= 0 ? datum.label : ''", "minExtent": 26, "maxExtent": 26, "titlePadding": 0, "titleLineHeight": 24}}
     }},
    {"data": {"name": "E3d"}, "mark": {"type": "point", "filled": true, "color": "black", "stroke": "#222222", "strokeWidth": 2.5, "opacity": 1},
     "encoding": {
      "x": {"field": "x", "type": "quantitative"}, "y": {"field": "y", "type": "quantitative"},
      "shape": {"field": "g", "type": "nominal", "scale": {"domain": ["pure 2D jets", "pure 3D jets"], "range": ["M-1,0.5L1,-0.5", "circle"]},
       "legend": {"title": null, "orient": "none", "legendX": -10, "legendY": 364, "labelFontSize": 24, "symbolOffset": 0, "labelOffset": 9, "rowPadding": 18, "padding": 0, "labelExpr": "datum.label == 'pure 3D jets' ? ['pure 3D jets', '(Fr‘→∞)'] : datum.label"}},
      "size": {"field": "g", "type": "nominal", "scale": {"domain": ["pure 2D jets", "pure 3D jets"], "range": [1444, 22]},
       "legend": {"title": null, "orient": "none", "legendX": -10, "legendY": 364, "labelFontSize": 24, "symbolOffset": 0, "labelOffset": 9, "rowPadding": 18, "padding": 0, "labelExpr": "datum.label == 'pure 3D jets' ? ['pure 3D jets', '(Fr‘→∞)'] : datum.label"}}
     }},
    {"data": {"name": "E459"}, "mark": {"type": "point", "shape": "diamond", "filled": false, "fill": "white", "fillOpacity": 1, "stroke": "black", "strokeWidth": 1.6, "size": 60, "opacity": 1},
     "encoding": {"x": {"field": "x", "type": "quantitative"}, "y": {"field": "y", "type": "quantitative"}}},
    {"data": {"name": "E212"}, "mark": {"type": "point", "filled": false, "color": "black", "strokeWidth": 1.3, "size": 30, "opacity": 1},
     "encoding": {
      "x": {"field": "x", "type": "quantitative"}, "y": {"field": "y", "type": "quantitative"},
      "shape": {"field": "s", "type": "nominal", "scale": {"domain": ["Fr‘ = 4.59", "Fr‘ = 2.12"], "range": ["square", "circle"]},
       "legend": {"title": "stratified 3D jets", "orient": "none", "legendX": 216, "legendY": 371, "titleFontSize": 24, "labelFontSize": 24, "symbolSize": 36, "symbolOffset": 0, "labelOffset": -1, "rowPadding": 3, "titlePadding": 6, "padding": 0}}
     }}
   ],
   "resolve": {"scale": {"shape": "independent", "size": "independent"}, "legend": {"shape": "independent", "size": "independent"}}}
 ], "columns": 1, "spacing": 8.5,
 "resolve": {"scale": {"color": "independent", "shape": "independent", "size": "independent"}, "legend": {"color": "independent", "shape": "independent", "size": "independent"}}}
], "columns": 1, "spacing": 8,
"resolve": {"scale": {"color": "independent", "shape": "independent", "size": "independent"}, "legend": {"color": "independent", "shape": "independent", "size": "independent"}}},
{"concat": [
 {"concat": [
 {"concat": [
  {"width": 1, "height": 36, "view": {"stroke": null},
   "data": {"values": [{"t": "B", "h": "Stratified jet (Fr‘= 4.59)"}]},
   "layer": [
    {"mark": {"type": "text", "fontSize": 24, "align": "left", "dx": -1, "color": "black"}, "encoding": {"text": {"field": "h", "type": "nominal"}}},
    {"transform": [{"filter": "false"}], "mark": {"type": "point", "filled": false, "color": "black", "strokeWidth": 2.5},
     "encoding": {"shape": {"field": "t", "type": "nominal", "scale": {"domain": ["B"], "range": ["square"]},
      "legend": {"title": null, "orient": "none", "legendX": -65, "legendY": 0, "padding": 0, "symbolSize": 1156, "symbolStrokeWidth": 2.5, "symbolStrokeColor": "black", "symbolOpacity": 1, "symbolOffset": 0, "labelAlign": "center", "labelOffset": -18.5, "labelFontSize": 19, "labelFontWeight": "bold"}}}}
   ]},
  {"width": 398, "height": 235,
   "layer": [
    {"data": {"values": [{"v": 0}]}, "mark": {"type": "rule", "color": "black", "strokeWidth": 2},
     "encoding": {"x": {"field": "v", "type": "quantitative", "title": "Velocity [m s⁻¹]"}}},
    {"data": {"name": "B"}, "mark": {"type": "circle", "size": 28, "opacity": 1},
     "encoding": {
      "x": {"field": "v", "type": "quantitative", "scale": {"domain": [-0.05, 0.25], "nice": false},
       "axis": {"title": "Velocity [m s⁻¹]", "values": [-0.05, 0, 0.05, 0.1, 0.15, 0.2, 0.25], "format": "~g", "labelExpr": "indexof([-0.05,0,0.1,0.2], datum.value) >= 0 ? replace(datum.label, '−', '-') : ''"}},
      "y": {"field": "z", "type": "quantitative", "scale": {"domain": [0, 0.08], "nice": false},
       "axis": {"title": "Distance above bed [m]", "values": [0, 0.01, 0.02, 0.03, 0.04, 0.05, 0.06, 0.07, 0.08], "format": "~g", "labelExpr": "indexof([0,0.05,0.08], datum.value) >= 0 ? datum.label : ''"}},
      "color": {"field": "s", "type": "nominal", "scale": {"domain": ["0.18 m", "0.4 m", "0.7 m", "1 m"], "range": ["#0c0c5c", "#3b6b9c", "#12c6f2", "#5c9c9c"]},
       "legend": {"title": "Distance from inlet", "orient": "top-right", "offset": 7, "symbolOffset": 18}}
     }}
   ]}
 ], "columns": 1, "spacing": 1,
 "resolve": {"scale": {"color": "independent", "shape": "independent"}, "legend": {"color": "independent", "shape": "independent"}}},
 {"concat": [
  {"width": 1, "height": 36, "view": {"stroke": null},
   "data": {"values": [{"t": "D", "h": "Pure jet (Fr‘ → ∞) on erodible bed"}]},
   "layer": [
    {"mark": {"type": "text", "fontSize": 24, "align": "left", "dx": -1, "color": "black"}, "encoding": {"text": {"field": "h", "type": "nominal"}}},
    {"transform": [{"filter": "false"}], "mark": {"type": "point", "filled": false, "color": "black", "strokeWidth": 2.5},
     "encoding": {"shape": {"field": "t", "type": "nominal", "scale": {"domain": ["D"], "range": ["square"]},
      "legend": {"title": null, "orient": "none", "legendX": -65, "legendY": 0, "padding": 0, "symbolSize": 1156, "symbolStrokeWidth": 2.5, "symbolStrokeColor": "black", "symbolOpacity": 1, "symbolOffset": 0, "labelAlign": "center", "labelOffset": -18.5, "labelFontSize": 19, "labelFontWeight": "bold"}}}}
   ]},
  {"width": 398, "height": 230,
   "layer": [
    {"data": {"values": [{"v": 0}]}, "mark": {"type": "rule", "color": "black", "strokeWidth": 2},
     "encoding": {"x": {"field": "v", "type": "quantitative", "title": "Velocity [m s⁻¹]"}}},
    {"data": {"name": "D"}, "mark": {"type": "circle", "size": 28, "opacity": 1},
     "encoding": {
      "x": {"field": "v", "type": "quantitative", "scale": {"domain": [-0.05, 0.35], "nice": false},
       "axis": {"title": "Velocity [m s⁻¹]", "values": [-0.05, 0, 0.05, 0.1, 0.15, 0.2, 0.25, 0.3, 0.35], "format": "~g", "labelExpr": "indexof([-0.05,0,0.1,0.2,0.3], datum.value) >= 0 ? replace(datum.label, '−', '-') : ''"}},
      "y": {"field": "z", "type": "quantitative", "scale": {"domain": [0, 0.2], "nice": false},
       "axis": {"title": "Distance above bed [m]", "values": [0, 0.05, 0.1, 0.15, 0.2], "format": "~g", "labelExpr": "indexof([0,0.1,0.2], datum.value) >= 0 ? datum.label : ''"}},
      "color": {"field": "s", "type": "nominal", "scale": {"domain": ["0.24 m", "0.47 m", "0.7 m", "1 m"], "range": ["#0c0c5c", "#3b6b9c", "#12c6f2", "#5c9c9c"]},
       "legend": {"title": "Distance from inlet", "orient": "top-right", "offset": 7, "symbolOffset": 18, "padding": 3, "rowPadding": 3}}
     }}
   ]}
 ], "columns": 1, "spacing": 4.5,
 "resolve": {"scale": {"color": "independent", "shape": "independent"}, "legend": {"color": "independent", "shape": "independent"}}}
 ], "columns": 1, "spacing": 16,
 "resolve": {"scale": {"color": "independent", "shape": "independent"}, "legend": {"color": "independent", "shape": "independent"}}},
 {"concat": [
  {"width": 1, "height": 36, "view": {"stroke": null},
   "data": {"values": [{"t": "F", "h": "Downflow deceleration"}]},
   "layer": [
    {"mark": {"type": "text", "fontSize": 24, "align": "left", "dx": 12, "color": "black"}, "encoding": {"text": {"field": "h", "type": "nominal"}}},
    {"transform": [{"filter": "false"}], "mark": {"type": "point", "filled": false, "color": "black", "strokeWidth": 2.5},
     "encoding": {"shape": {"field": "t", "type": "nominal", "scale": {"domain": ["F"], "range": ["square"]},
      "legend": {"title": null, "orient": "none", "legendX": -52, "legendY": 0, "padding": 0, "symbolSize": 1156, "symbolStrokeWidth": 2.5, "symbolStrokeColor": "black", "symbolOpacity": 1, "symbolOffset": 0, "labelAlign": "center", "labelOffset": -18.5, "labelFontSize": 19, "labelFontWeight": "bold"}}}}
   ]},
  {"width": 398, "height": 296,
   "layer": [
    {"data": {"name": "F3d"}, "mark": {"type": "point", "filled": true, "color": "black", "size": 40, "opacity": 1},
     "encoding": {
      "x": {"field": "x", "type": "quantitative", "scale": {"domain": [0, 50], "nice": false},
       "axis": {"title": ["dimensionless length scale", "x/D₀ [-]"], "values": [0, 10, 20, 30, 40, 50], "format": "~r", "labelExpr": "indexof([0,50], datum.value) >= 0 ? datum.label : ''", "minExtent": 10, "maxExtent": 10, "titlePadding": 8, "titleLineHeight": 22}},
      "y": {"field": "y", "type": "quantitative", "scale": {"domain": [0, 1], "nice": false},
       "axis": {"title": ["dimensionless flow velocity", "u/u₀ [-]"], "values": [0, 0.1, 0.2, 0.3, 0.4, 0.5, 0.6, 0.7, 0.8, 0.9, 1], "format": "~r", "labelExpr": "indexof([0,1], datum.value) >= 0 ? datum.label : ''", "minExtent": 26, "maxExtent": 26, "titlePadding": 0, "titleLineHeight": 24}},
      "shape": {"field": "g", "type": "nominal", "scale": {"domain": ["pure 3D jets"], "range": ["circle"]},
       "legend": {"title": null, "orient": "none", "legendX": -3, "legendY": 371, "labelFontSize": 24, "symbolOffset": 0, "labelOffset": 17, "symbolSize": 40, "padding": 0, "labelExpr": "datum.label == 'pure 3D jets' ? ['pure 3D jets', '(Fr‘→∞)'] : datum.label"}}
     }},
    {"data": {"name": "Fstrat"}, "mark": {"type": "point", "filled": false, "color": "black", "strokeWidth": 2, "size": 45, "opacity": 1},
     "encoding": {
      "x": {"field": "x", "type": "quantitative"}, "y": {"field": "y", "type": "quantitative"},
      "shape": {"field": "s", "type": "nominal", "scale": {"domain": ["Fr‘ = 4.59", "Fr‘ = 2.12"], "range": ["square", "circle"]},
       "legend": {"title": "stratified 3D jets", "orient": "none", "legendX": 214, "legendY": 371, "titleFontSize": 24, "labelFontSize": 24, "symbolSize": 36, "symbolOffset": 0, "labelOffset": 6, "rowPadding": 3, "titlePadding": 6, "padding": 0, "symbolStrokeWidth": 2}}
     }}
   ],
   "resolve": {"scale": {"shape": "independent"}, "legend": {"shape": "independent"}}}
 ], "columns": 1, "spacing": 8.5,
 "resolve": {"scale": {"color": "independent", "shape": "independent", "size": "independent"}, "legend": {"color": "independent", "shape": "independent", "size": "independent"}}}
], "columns": 1, "spacing": 8,
"resolve": {"scale": {"color": "independent", "shape": "independent", "size": "independent"}, "legend": {"color": "independent", "shape": "independent", "size": "independent"}}}
],
"spacing": 29,
"resolve": {"scale": {"color": "independent", "shape": "independent", "size": "independent"}, "legend": {"color": "independent", "shape": "independent", "size": "independent"}},
"config": {
 "font": "Liberation Sans",
 "view": {"stroke": "#9a9a9a", "strokeWidth": 1.5},
 "axis": {"labelFontSize": 18, "titleFontSize": 18, "titleFontWeight": "normal", "labelColor": "black", "titleColor": "black", "domainColor": "black", "domainWidth": 2, "gridColor": "#9a9a9a", "gridWidth": 1.5, "ticks": false, "labelPadding": 7, "labelFlush": false, "labelOverlap": false, "grid": true},
 "axisY": {"minExtent": 44, "maxExtent": 44, "titlePadding": 6},
 "axisX": {"titlePadding": 2},
 "legend": {"titleFontSize": 21, "titleFontWeight": "normal", "titleColor": "black", "labelFontSize": 21, "labelColor": "black", "symbolType": "circle", "symbolSize": 25, "symbolOffset": 0, "labelOffset": 8, "fillColor": "white", "padding": 4, "rowPadding": 3.3, "titlePadding": 3, "symbolStrokeWidth": 1.3, "labelLimit": 400, "titleLimit": 400}
}
}
